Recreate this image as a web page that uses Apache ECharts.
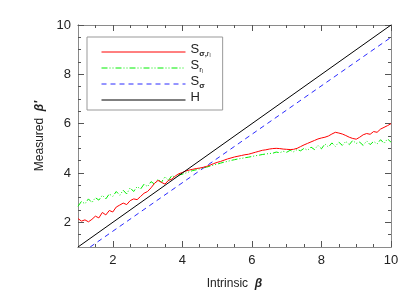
<!DOCTYPE html>
<html><head><meta charset="utf-8">
<script src="https://cdn.jsdelivr.net/npm/echarts@6/dist/echarts.min.js"></script>
<style>html,body{margin:0;padding:0;background:#fff}#c{width:415px;height:297px}</style>
</head><body><div id="c"></div>
<script>
const xs = [1.0,1.1,1.2,1.3,1.4,1.5,1.6,1.7,1.8,1.9,
2.0,2.1,2.2,2.3,2.4,2.5,2.6,2.7,2.8,2.9,
3.0,3.1,3.2,3.3,3.4,3.5,3.6,3.7,3.8,3.9,
4.0,4.1,4.2,4.3,4.4,4.5,4.6,4.7,4.8,4.9,
5.0,5.1,5.2,5.3,5.4,5.5,5.6,5.7,5.8,5.9,
6.0,6.1,6.2,6.3,6.4,6.5,6.6,6.7,6.8,6.9,
7.0,7.1,7.2,7.3,7.4,7.5,7.6,7.7,7.8,7.9,
8.0,8.1,8.2,8.3,8.4,8.5,8.6,8.7,8.8,8.9,
9.0,9.1,9.2,9.3,9.4,9.5,9.6,9.7,9.8,9.9,10.0];
const redS = [2.15,2.05,2.10,2.02,2.12,2.25,2.18,2.40,2.30,2.48,
2.42,2.62,2.70,2.78,2.72,2.88,2.95,2.92,3.05,3.18,
3.25,3.40,3.58,3.70,3.62,3.55,3.70,3.75,3.88,3.97,
4.02,4.08,4.12,4.15,4.18,4.20,4.23,4.27,4.32,4.38,
4.43,4.47,4.52,4.57,4.61,4.65,4.68,4.71,4.74,4.76,
4.80,4.84,4.88,4.92,4.94,4.97,4.99,5.00,4.99,4.97,
4.96,4.95,4.96,5.00,5.07,5.14,5.20,5.26,5.32,5.38,
5.42,5.45,5.50,5.58,5.65,5.62,5.58,5.52,5.45,5.40,
5.37,5.45,5.55,5.60,5.57,5.68,5.65,5.78,5.85,5.92,6.00];
const greenS = [2.65,2.85,2.75,2.95,2.80,3.00,2.90,3.10,2.95,3.15,
3.05,3.25,3.10,3.30,3.15,3.40,3.25,3.45,3.35,3.55,
3.45,3.65,3.55,3.75,3.62,3.85,3.70,3.90,3.82,3.92,
3.95,4.00,4.05,4.10,4.13,4.17,4.20,4.24,4.28,4.32,
4.36,4.40,4.44,4.47,4.51,4.54,4.57,4.59,4.62,4.64,
4.67,4.70,4.72,4.75,4.77,4.79,4.80,4.85,4.82,4.88,
4.84,4.92,4.86,4.95,4.90,5.00,4.92,5.05,4.95,5.12,
4.98,5.18,5.05,5.22,5.08,5.25,5.12,5.28,5.15,5.32,
5.20,5.25,5.12,5.30,5.15,5.28,5.18,5.35,5.20,5.38,5.25];
const blueS = [[1.35,1.0],[10.0,9.5]];
const blackH = [[1.0,1.0],[10.0,10.0]];
const majorTicks = [2,4,6,8,10];
const minorTicks = [1.5,2.5,3,3.5,4.5,5,5.5,6.5,7,7.5,8.5,9,9.5];

const zip = (a,b)=>a.map((v,i)=>[v,b[i]]);
const font = 'Liberation Sans';
const axisCol = '#8a8a8a';
const tickCol = '#555555';
const G = {left:78,right:24,top:25,bottom:50};
function mkAxis(gi, pos, major, withLabel, extra){
  return Object.assign({
    gridIndex:gi, type:'value', min:1, max:10, position:pos,
    splitLine:{show:false},
    axisLine:{show:true, onZero:false, lineStyle:{color:axisCol, width:1}},
    axisTick:{show:true, inside:true, length: major?6:3, customValues: (major?majorTicks:minorTicks).slice(), lineStyle:{color:tickCol, width:1}},
    axisLabel:{show:withLabel, customValues:majorTicks.slice(), fontFamily:font, fontSize:13, color:'#222', margin:7},
  }, extra||{});
}
const nameStyle = {fontFamily:font,fontSize:12,color:'#222',rich:{b:{fontFamily:font,fontSize:12,fontWeight:'bold',fontStyle:'italic',color:'#222'}}};
const chart = echarts.init(document.getElementById('c'));
chart.setOption({
  animation:false,
  grid:[G,G,G,G].map(g=>Object.assign({},g)),
  xAxis:[
    mkAxis(0,'bottom',true,true,{name:'Intrinsic  {b|β}', nameLocation:'middle', nameGap:31, nameTextStyle:nameStyle}),
    mkAxis(1,'bottom',false,false),
    mkAxis(2,'top',true,false),
    mkAxis(3,'top',false,false)
  ],
  yAxis:[
    mkAxis(0,'left',true,true,{name:"Measured  {b|β'}", nameLocation:'middle', nameGap:27, nameTextStyle:nameStyle}),
    mkAxis(1,'left',false,false),
    mkAxis(2,'right',true,false),
    mkAxis(3,'right',false,false)
  ],
  legend:{
    orient:'vertical', left:87, top:37,
    padding:[6,12,4,14], itemGap:1, itemWidth:84, itemHeight:10,
    borderColor:'#999', borderWidth:1, borderRadius:0,
    itemStyle:{opacity:0},
    lineStyle:{width:1},
    data:['Ssr','Sr','Ss','H'],
    formatter:function(n){
      return {Ssr:'{s|S}{sb|σ,}{sub|r}{ss|l}', Sr:'{s|S}{sub|r}{ss|l}', Ss:'{s|S}{sb|σ}', H:'{s|H}'}[n];
    },
    textStyle:{fontFamily:font, rich:{
      s:{fontFamily:font,fontSize:13,color:'#222',lineHeight:12,padding:[0,0,2,0],verticalAlign:'bottom'},
      sb:{fontFamily:font,fontSize:8,fontWeight:'bold',color:'#222',lineHeight:8,verticalAlign:'bottom'},
      sub:{fontFamily:font,fontSize:8,color:'#222',lineHeight:8,verticalAlign:'bottom'},
      ss:{fontFamily:font,fontSize:5,color:'#222',lineHeight:5,verticalAlign:'bottom'}
    }}
  },
  series:[
    {name:'Ssr', type:'line', data:zip(xs,redS), symbol:'none', lineStyle:{color:'#ff0000',width:1}, itemStyle:{color:'#ff0000'}, z:4},
    {name:'Sr', type:'line', data:zip(xs,greenS), symbol:'none', lineStyle:{color:'#00ee00',width:1,type:[6,2,1,2,1,2]}, itemStyle:{color:'#00ee00'}, z:3},
    {name:'Ss', type:'line', data:blueS, symbol:'none', lineStyle:{color:'#2a2aff',width:1,type:[5,4]}, itemStyle:{color:'#2a2aff'}, z:2},
    {name:'H', type:'line', data:blackH, symbol:'none', lineStyle:{color:'#000',width:1}, itemStyle:{color:'#000'}, z:5},
    {type:'line', xAxisIndex:1, yAxisIndex:1, data:[[1,1]], symbol:'none', silent:true},
    {type:'line', xAxisIndex:2, yAxisIndex:2, data:[[1,1]], symbol:'none', silent:true},
    {type:'line', xAxisIndex:3, yAxisIndex:3, data:[[1,1]], symbol:'none', silent:true}
  ]
});
</script></body></html>
